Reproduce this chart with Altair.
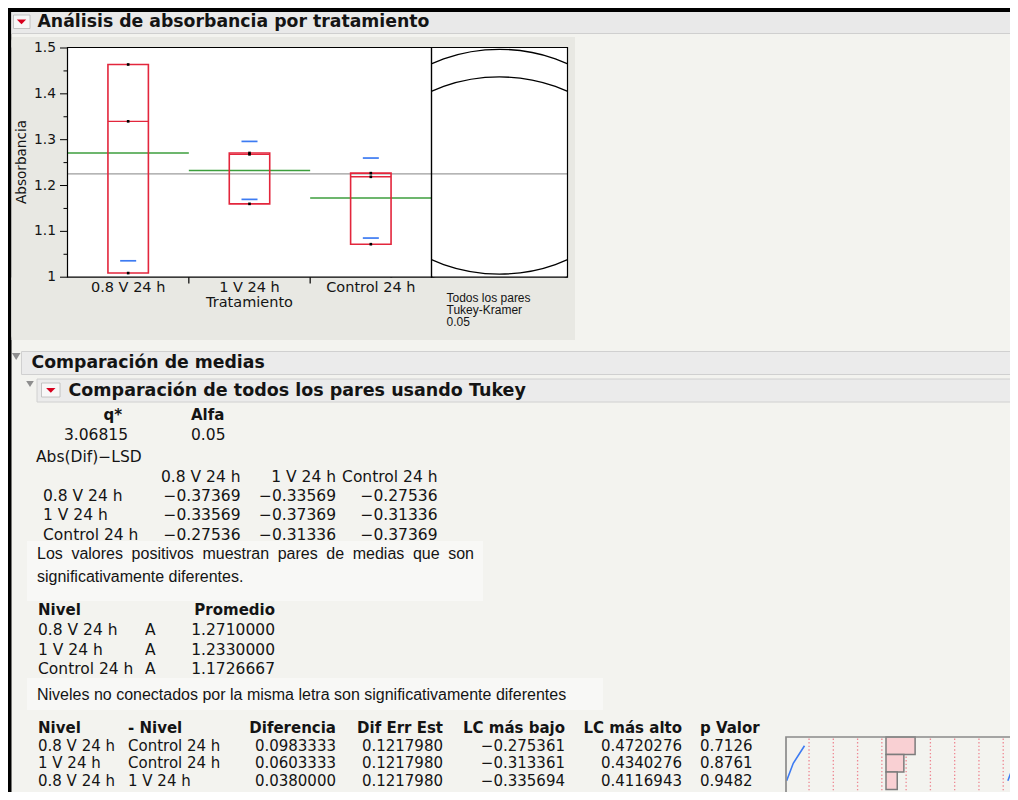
import altair as alt
import pandas as pd

# ---------------------------------------------------------------- data
treatments = ["0.8 V 24 h", "1 V 24 h", "Control 24 h"]
abs_08v = [1.464, 1.340, 1.009]
abs_1v = [1.268, 1.271, 1.160]
abs_ctrl = [1.227, 1.219, 1.072]

y_major = [1.0, 1.1, 1.2, 1.3, 1.4, 1.5]
y_major_labels = ["1", "1.1", "1.2", "1.3", "1.4", "1.5"]
y_minor = [1.05, 1.15, 1.25, 1.35, 1.45]

circle_radius = 0.2642          # Tukey-Kramer comparison-circle radius
circle_caption = ["Todos los pares", "Tukey-Kramer", "0.05"]

q_star = 3.06815
alpha = 0.05
lsd_rows = [
    [-0.37369, -0.33569, -0.27536],
    [-0.33569, -0.37369, -0.31336],
    [-0.27536, -0.31336, -0.37369],
]

level_letters = ["A", "A", "A"]
level_means = [1.2710000, 1.2330000, 1.1726667]

od_level = ["0.8 V 24 h", "1 V 24 h", "0.8 V 24 h"]
od_minus = ["Control 24 h", "Control 24 h", "1 V 24 h"]
od_diff = [0.0983333, 0.0603333, 0.0380000]
od_se = [0.1217980, 0.1217980, 0.1217980]
od_lower = [-0.275361, -0.313361, -0.335694]
od_upper = [0.4720276, 0.4340276, 0.4116943]
od_p = [0.7126, 0.8761, 0.9482]
od_grid = [-0.260, -0.178, -0.096, -0.014, 0.068, 0.150, 0.232, 0.314, 0.396, 0.478]

# ---------------------------------------------------------------- style / layout
OX, OY = 8, 8
def X(v):
    return v - OX
def Y(v):
    return v - OY

FONT = "DejaVu Sans"
ARIAL = "Liberation Sans"
INK = "#141414"
PAGE = "#f3f3ef"
PANEL = "#e8e8e3"
BARFILL = "#ebebeb"
BAREDGE = "#d0d0d0"
NOTE = "#f8f8f6"
RED = "#e3263c"
BLUE = "#3d7bf2"
GREEN = "#3c9e3c"
GREY = "#9c9c9c"
HEAD = 17.3

PLOT_L, PLOT_R, PLOT_T, PLOT_B = 67.5, 431.5, 48.0, 277.2
CIRC_R = 567.5
PX_PER_UNIT = (PLOT_B - PLOT_T) / (y_major[-1] - y_major[0])
CIRCLE_ASPECT = 1.185

Y_SC = alt.Scale(domain=[y_major[0], y_major[-1]], range=[Y(PLOT_B), Y(PLOT_T)], nice=False, zero=False)
X_SC = alt.Scale(domain=[-0.5, len(treatments) - 0.5], range=[X(PLOT_L), X(PLOT_R)], nice=False, zero=False)

MINI_ZERO, MINI_PPU = 886.0, 296.0
MINI_TOP, MINI_ROW = 737.0, 17.5
MX = alt.Scale(domain=[-0.3, 0.5], range=[X(MINI_ZERO - 0.3 * MINI_PPU), X(MINI_ZERO + 0.5 * MINI_PPU)], nice=False, zero=False)
MY = alt.Scale(domain=[0, 3], range=[Y(MINI_TOP), Y(MINI_TOP + 3 * MINI_ROW)], nice=False, zero=False)

ONE = pd.DataFrame({"k": [0]})
layers = []


def rect(x0, y0, x1, y1, fill=None, stroke=None, sw=1.0, radius=0):
    kw = {}
    if fill is None:
        kw.update(fill="#000000", fillOpacity=0)
    else:
        kw.update(fill=fill)
    if stroke is not None:
        kw.update(stroke=stroke, strokeWidth=sw)
    else:
        kw.update(strokeWidth=0)
    if radius:
        kw.update(cornerRadius=radius)
    return alt.Chart(ONE).mark_rect(**kw).encode(
        x=alt.value(X(x0)), x2=alt.value(X(x1)), y=alt.value(Y(y0)), y2=alt.value(Y(y1)))


def text(x, y, s, size=15.5, bold=False, font=FONT, align="left", color=INK, angle=None, baseline="middle"):
    kw = dict(text=s, align=align, baseline=baseline, fontSize=size, font=font, color=color)
    if bold:
        kw["fontWeight"] = "bold"
    if angle is not None:
        kw["angle"] = angle
    return alt.Chart(ONE).mark_text(**kw).encode(x=alt.value(X(x)), y=alt.value(Y(y)))


def column(strings, x, ys, size=15.5, bold=False, font=FONT, align="left", color=INK):
    df = pd.DataFrame({"s": strings, "yy": [Y(v) for v in ys]})
    kw = dict(align=align, baseline="middle", fontSize=size, font=font, color=color)
    if bold:
        kw["fontWeight"] = "bold"
    return alt.Chart(df).mark_text(**kw).encode(
        x=alt.value(X(x)), y=alt.Y("yy:Q", scale=None, axis=None), text="s:N")


def marker(x, y, path, half, color):
    return alt.Chart(ONE).mark_point(shape=path, size=(2 * half) ** 2, filled=True, color=color,
                                     opacity=1, strokeWidth=0).encode(x=alt.value(X(x)), y=alt.value(Y(y)))


def fmt(v, d):
    return f"{v:.{d}f}".replace("-", "\u2212")


RED_TRI = "M -1 -0.5 L 1 -0.5 L 0 0.5 Z"
GREY_TRI = "M -1 -0.8 L 1 -0.8 L 0 0.8 Z"
k = 1.0 / CIRCLE_ASPECT
kb = 0.5523 * k
ELLIPSE = (f"M -1 0 C -1 {-kb:.4f} -0.5523 {-k:.4f} 0 {-k:.4f} C 0.5523 {-k:.4f} 1 {-kb:.4f} 1 0 "
           f"C 1 {kb:.4f} 0.5523 {k:.4f} 0 {k:.4f} C -0.5523 {k:.4f} -1 {kb:.4f} -1 0 Z")

# ---------------------------------------------------------------- data frames
obs_rows = []
for ci, (name, vals) in enumerate(zip(treatments, [abs_08v, abs_1v, abs_ctrl])):
    for v in vals:
        obs_rows.append({"trat": name, "ci": ci, "value": v})
obs = pd.DataFrame(obs_rows)
base = alt.Chart(obs)
stats = base.transform_aggregate(
    lo="min(value)", hi="max(value)", med="median(value)", mean="mean(value)", sd="stdev(value)",
    groupby=["ci"])

# ---------------------------------------------------------------- page frame + panel
layers.append(rect(8, 8, 1018, 12, fill="#000000"))
layers.append(rect(8, 8, 11.5, 800, fill="#000000"))
layers.append(rect(11.5, 37, 575, 340, fill=PANEL, radius=4))
layers.append(rect(PLOT_R, PLOT_T, CIRC_R, PLOT_B, fill="#ffffff"))

# comparison circles (drawn, then trimmed by covering rectangles)
a_px = circle_radius * PX_PER_UNIT * CIRCLE_ASPECT
layers.append(stats.mark_point(shape=ELLIPSE, size=(2 * a_px) ** 2, filled=False, color="#000000",
                               strokeWidth=1.3, opacity=1).encode(
    x=alt.value(X((PLOT_R + CIRC_R) / 2)), y=alt.Y("mean:Q", scale=Y_SC, axis=None)))
layers.append(rect(575, 12, 1018, 348, fill=PAGE))
layers.append(rect(11.5, 12, 575, 37, fill=PAGE))
layers.append(rect(11.5, 37, 575, PLOT_T - 0.4, fill=PANEL))
layers.append(rect(CIRC_R + 0.1, 37, 575, 340, fill=PANEL))
layers.append(rect(11.5, PLOT_B + 0.3, 575, 340, fill=PANEL))

# title bar
layers.append(rect(11.5, 12, 1018, 33.5, fill="#e9e9e9"))
layers.append(rect(11.5, 33, 1018, 34, fill="#cfcfcf"))
layers.append(rect(13.5, 15, 30, 28.5, fill="#f7f7f7", stroke="#b8b8b8", sw=0.8))
layers.append(marker(21.5, 21.8, RED_TRI, 4.7, "#d8001e"))
layers.append(text(37.5, 21.5, "Análisis de absorbancia por tratamiento", size=HEAD, bold=True))

# ---------------------------------------------------------------- oneway plot
layers.append(rect(PLOT_L, PLOT_T, PLOT_R, PLOT_B, fill="#ffffff"))

layers.append(stats.transform_calculate(xl="datum.ci - 0.5", xr="datum.ci + 0.5").mark_rule(
    color=GREEN, strokeWidth=1.5).encode(
    x=alt.X("xl:Q", scale=X_SC, axis=None), x2="xr:Q", y=alt.Y("mean:Q", scale=Y_SC, axis=None)))

layers.append(base.transform_aggregate(gm="mean(value)").mark_rule(color=GREY, strokeWidth=1.2).encode(
    y=alt.Y("gm:Q", scale=Y_SC, axis=None), x=alt.value(X(PLOT_L)), x2=alt.value(X(CIRC_R))))

layers.append(stats.transform_calculate(xa="datum.ci - 1/6", xb="datum.ci + 1/6").mark_rect(
    fill="#000000", fillOpacity=0, stroke=RED, strokeWidth=1.6).encode(
    x=alt.X("xa:Q", scale=X_SC, axis=None), x2="xb:Q",
    y=alt.Y("lo:Q", scale=Y_SC, axis=None), y2="hi:Q"))

layers.append(stats.transform_calculate(xa="datum.ci - 1/6", xb="datum.ci + 1/6").mark_rule(
    color=RED, strokeWidth=1.4).encode(
    x=alt.X("xa:Q", scale=X_SC, axis=None), x2="xb:Q", y=alt.Y("med:Q", scale=Y_SC, axis=None)))

layers.append(stats.transform_calculate(
    up="datum.mean + datum.sd", dn="datum.mean - datum.sd",
    xs0="datum.ci - 0.066", xs1="datum.ci + 0.066").transform_fold(
    ["up", "dn"], as_=["which", "lvl"]).transform_filter(
    f"datum.lvl <= {y_major[-1]} && datum.lvl >= {y_major[0]}").mark_rule(
    color=BLUE, strokeWidth=1.7).encode(
    x=alt.X("xs0:Q", scale=X_SC, axis=None), x2="xs1:Q", y=alt.Y("lvl:Q", scale=Y_SC, axis=None)))

layers.append(base.mark_square(size=7, color="#000000", opacity=1).encode(
    x=alt.X("ci:Q", scale=X_SC, axis=None), y=alt.Y("value:Q", scale=Y_SC, axis=None)))

# frames
layers.append(rect(PLOT_L, PLOT_T - 0.5, PLOT_R, PLOT_B, stroke="#000000", sw=1.2))
layers.append(rect(PLOT_R, PLOT_T - 0.5, CIRC_R, PLOT_B, stroke="#000000", sw=1.2))

# axes
ymaj = pd.DataFrame({"v": y_major, "lab": y_major_labels})
ymin = pd.DataFrame({"v": y_minor})
layers.append(alt.Chart(ymaj).mark_rule(color="#000000", strokeWidth=1).encode(
    y=alt.Y("v:Q", scale=Y_SC, axis=None), x=alt.value(X(60)), x2=alt.value(X(PLOT_L))))
layers.append(alt.Chart(ymin).mark_rule(color="#000000", strokeWidth=1).encode(
    y=alt.Y("v:Q", scale=Y_SC, axis=None), x=alt.value(X(63.5)), x2=alt.value(X(PLOT_L))))
layers.append(alt.Chart(ymaj).mark_text(align="right", baseline="middle", fontSize=13.8, font=FONT,
                                        color=INK).encode(
    y=alt.Y("v:Q", scale=Y_SC, axis=None), x=alt.value(X(56)), text="lab:N"))

bounds = pd.DataFrame({"b": [i + 0.5 for i in range(len(treatments) - 1)]})
layers.append(alt.Chart(bounds).mark_rule(color="#000000", strokeWidth=1.2).encode(
    x=alt.X("b:Q", scale=X_SC, axis=None), y=alt.value(Y(PLOT_B)), y2=alt.value(Y(283.5))))
cats = pd.DataFrame({"trat": treatments, "ci": list(range(len(treatments)))})
layers.append(alt.Chart(cats).mark_text(baseline="middle", fontSize=14.5, font=FONT, color=INK).encode(
    x=alt.X("ci:Q", scale=X_SC, axis=None), y=alt.value(Y(287.5)), text="trat:N"))
layers.append(text((PLOT_L + PLOT_R) / 2, 302.5, "Tratamiento", size=14.5, align="center"))
layers.append(text(21.5, 162, "Absorbancia", size=13.6, align="center", angle=270))

layers.append(column(circle_caption, 446.5, [298, 310, 322], size=12, font=ARIAL))

# ---------------------------------------------------------------- section headers
layers.append(rect(21.5, 351.5, 1030, 374.5, fill=BARFILL, stroke=BAREDGE, sw=1))
layers.append(marker(16.2, 356.5, GREY_TRI, 4.3, "#8e8e8e"))
layers.append(text(31.5, 362.5, "Comparación de medias", size=HEAD, bold=True))

layers.append(rect(37, 379, 1030, 402, fill=BARFILL, stroke=BAREDGE, sw=1))
layers.append(marker(30, 384, GREY_TRI, 3.8, "#8e8e8e"))
layers.append(rect(41.5, 383, 60, 397, fill="#f7f7f7", stroke="#b8b8b8", sw=0.8))
layers.append(marker(50.8, 390.3, RED_TRI, 4.7, "#d8001e"))
layers.append(text(68.5, 390.5, "Comparación de todos los pares usando Tukey", size=17.5, bold=True))

# ---------------------------------------------------------------- q* / LSD table
layers.append(text(122, 415, "q*", size=15, bold=True, align="right"))
layers.append(text(191, 415, "Alfa", size=15, bold=True))
layers.append(text(128, 435, f"{q_star:.5f}", align="right"))
layers.append(text(191, 435, f"{alpha:.2f}"))
layers.append(text(36, 456.5, "Abs(Dif)\u2212LSD"))

lsd_x = [240.5, 336, 437.5]
lsd_y = [495.5, 515, 534.5]
layers.append(column(treatments, 43, lsd_y))
for j, xr in enumerate(lsd_x):
    layers.append(text(xr, 476.5, treatments[j], align="right"))
    layers.append(column([fmt(r[j], 5) for r in lsd_rows], xr, lsd_y, align="right"))

layers.append(rect(27, 541, 483, 601, fill=NOTE))
note1_words = ["Los", "valores", "positivos", "muestran", "pares", "de", "medias", "que", "son"]
note1_x = [37, 71.4, 131.6, 202.4, 277.7, 326.3, 352.7, 412.9, 448.2]
for w, wx in zip(note1_words, note1_x):
    layers.append(text(wx, 554, w, size=16, font=ARIAL))
layers.append(text(37, 576.5, "significativamente diferentes.", size=16, font=ARIAL))

# ---------------------------------------------------------------- letters report
lvl_y = [630, 649.5, 669]
layers.append(text(38, 610, "Nivel", size=15, bold=True))
layers.append(text(275, 610, "Promedio", size=15, bold=True, align="right"))
layers.append(column(treatments, 38, lvl_y))
layers.append(column(level_letters, 145, lvl_y))
layers.append(column([f"{m:.7f}" for m in level_means], 275, lvl_y, align="right"))

layers.append(rect(27, 678, 603, 710, fill=NOTE))
layers.append(text(37, 694.5, "Niveles no conectados por la misma letra son significativamente diferentes",
                   size=16, font=ARIAL))

# ---------------------------------------------------------------- ordered differences report
od_y = [MINI_TOP + MINI_ROW * (i + 0.5) for i in range(len(od_diff))]
hdr_y = 727.5
layers.append(text(38, hdr_y, "Nivel", size=15, bold=True))
layers.append(text(128, hdr_y, "- Nivel", size=15, bold=True))
layers.append(text(336, hdr_y, "Diferencia", size=15, bold=True, align="right"))
layers.append(text(443, hdr_y, "Dif Err Est", size=15, bold=True, align="right"))
layers.append(text(565, hdr_y, "LC más bajo", size=15, bold=True, align="right"))
layers.append(text(682, hdr_y, "LC más alto", size=15, bold=True, align="right"))
layers.append(text(700, hdr_y, "p Valor", size=15, bold=True))
layers.append(column(od_level, 38, od_y, size=15))
layers.append(column(od_minus, 128, od_y, size=15))
layers.append(column([fmt(v, 7) for v in od_diff], 336, od_y, size=15, align="right"))
layers.append(column([fmt(v, 7) for v in od_se], 443, od_y, size=15, align="right"))
layers.append(column([fmt(v, 6) for v in od_lower], 565, od_y, size=15, align="right"))
layers.append(column([fmt(v, 7) for v in od_upper], 682, od_y, size=15, align="right"))
layers.append(column([f"{v:.4f}" for v in od_p], 700, od_y, size=15))

# mini difference chart
od = pd.DataFrame({"row": list(range(len(od_diff))), "diff": od_diff, "lower": od_lower, "upper": od_upper})
grid = pd.DataFrame({"g": od_grid})
layers.append(alt.Chart(grid).mark_rule(color="#ee8893", strokeWidth=1.3, strokeDash=[1.4, 2.2]).encode(
    x=alt.X("g:Q", scale=MX, axis=None), y=alt.value(Y(MINI_TOP + 1.5)), y2=alt.value(Y(800))))
layers.append(alt.Chart(od).transform_calculate(r0="datum.row", r1="datum.row + 1").mark_rect(
    fill="#f9d0d3", stroke="#7c7c7c", strokeWidth=1.5).encode(
    x=alt.X("diff:Q", scale=MX, axis=None), x2=alt.datum(0),
    y=alt.Y("r0:Q", scale=MY, axis=None), y2="r1:Q"))
for fld in ["lower", "upper"]:
    layers.append(alt.Chart(od).transform_calculate(rc="datum.row + 0.5").mark_line(
        color=BLUE, strokeWidth=1.6).encode(
        x=alt.X(f"{fld}:Q", scale=MX, axis=None), y=alt.Y("rc:Q", scale=MY, axis=None),
        order="row:Q"))
layers.append(rect(786, MINI_TOP, 1040, 830, stroke="#8a8a8a", sw=1.7))

# ---------------------------------------------------------------- compose
chart = alt.layer(*layers).resolve_scale(x="independent", y="independent").properties(
    width=1002, height=784, padding=0, autosize=alt.AutoSizeParams(type="none")
).configure(background=PAGE).configure_view(stroke=None)

chart.save("out.html", embed_options={"renderer": "svg", "actions": False})
